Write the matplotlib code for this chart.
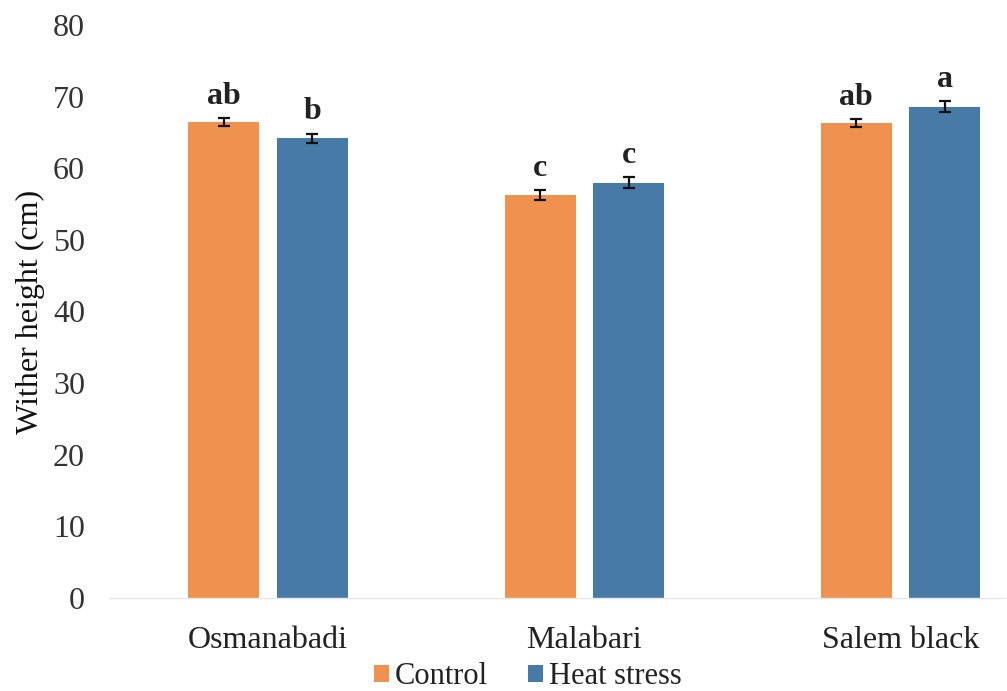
import matplotlib.pyplot as plt
import numpy as np

breeds = ["Osmanabadi", "Malabari", "Salem black"]
control = [66.5, 56.2, 66.3]
control_err = [0.55, 0.7, 0.55]
heat = [64.2, 58.0, 68.6]
heat_err = [0.65, 0.75, 0.75]
control_letters = ["ab", "c", "ab"]
heat_letters = ["b", "c", "a"]

plt.rcParams['font.family'] = ['Liberation Serif', 'DejaVu Serif']

fig = plt.figure(figsize=(10.07, 6.91), dpi=100)
ax = fig.add_axes([110 / 1007, 1 - 598 / 691, 895 / 1007, 573 / 691])

x = np.arange(len(breeds))
w = 0.225
off = 0.14
c_col = '#F0924F'
h_col = '#477AA7'

b1 = ax.bar(x - off, control, w, color=c_col, label='Control')
b2 = ax.bar(x + off, heat, w, color=h_col, label='Heat stress')
ax.errorbar(x - off, control, yerr=control_err, fmt='none', ecolor='#111111',
            elinewidth=1.6, capsize=4, capthick=1.6)
ax.errorbar(x + off, heat, yerr=heat_err, fmt='none', ecolor='#111111',
            elinewidth=1.6, capsize=4, capthick=1.6)

for xi, v, e, t in zip(x - off, control, control_err, control_letters):
    ax.text(xi, v + e + 1.0, t, ha='center', va='bottom', fontsize=23,
            fontweight='bold', color='#222222')
for xi, v, e, t in zip(x + off, heat, heat_err, heat_letters):
    ax.text(xi, v + e + 1.0, t, ha='center', va='bottom', fontsize=23,
            fontweight='bold', color='#222222')

ax.set_xlim(-0.5, 2.33)
ax.set_ylim(0, 80)
ax.set_yticks(range(0, 81, 10))
ax.set_xticks(x)
ax.set_xticklabels(breeds)
ax.tick_params(axis='y', length=0, pad=18, labelsize=23, labelcolor='#333333')
ax.tick_params(axis='x', length=0, pad=20, labelsize=23, labelcolor='#222222')

for s in ['top', 'right', 'left']:
    ax.spines[s].set_visible(False)
ax.spines['bottom'].set_color('#e6e6e6')
ax.spines['bottom'].set_linewidth(1.0)

ax.set_ylabel('Wither height (cm)', fontsize=23, color='#111111', labelpad=6)

fig.legend(handles=[b1, b2], loc='center', bbox_to_anchor=(528 / 1007, 1 - 677 / 691),
           ncol=2, frameon=False, fontsize=22, handlelength=0.5, handleheight=0.5,
           handletextpad=0.2, columnspacing=1.3, labelcolor='#222222')

fig.savefig('out.png', dpi=100)
